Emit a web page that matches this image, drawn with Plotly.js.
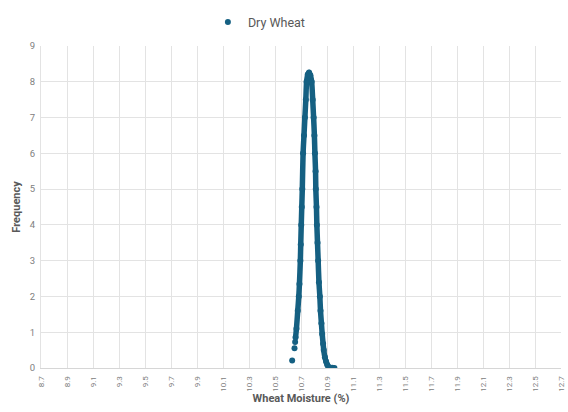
<!DOCTYPE html>
<html>
<head>
<meta charset="utf-8">
<script src="https://cdn.plot.ly/plotly-3.0.1.min.js"></script>
<style>
  html, body { margin: 0; padding: 0; background: #ffffff; }
  #chart { width: 568px; height: 412px; }
</style>
</head>
<body>
<div id="chart"></div>
<script>
// Dry wheat moisture readings (%) and their frequency
var moisture = [
  10.632, 10.650, 10.655, 10.658, 10.665, 10.675, 10.683, 10.688, 10.695, 10.698,
  10.702, 10.706, 10.710, 10.716, 10.723, 10.730, 10.737, 10.743, 10.752, 10.762,
  10.772, 10.782, 10.790, 10.797, 10.803, 10.807, 10.812, 10.814, 10.819, 10.822,
  10.827, 10.832, 10.838, 10.845, 10.850, 10.857, 10.863, 10.870, 10.875, 10.884,
  10.893, 10.902, 10.912, 10.925, 10.940, 10.957
];
var frequency = [
  0.21, 0.55, 0.73, 0.85, 1.10, 1.60, 2.00, 2.35, 3.00, 3.45,
  4.00, 4.50, 5.00, 6.00, 6.50, 7.00, 7.50, 8.00, 8.20, 8.26,
  8.18, 8.00, 7.50, 7.00, 6.50, 6.00, 5.50, 5.00, 4.50, 4.00,
  3.50, 3.00, 2.40, 2.00, 1.60, 1.25, 0.95, 0.68, 0.50, 0.30,
  0.18, 0.09, 0.03, 0.01, 0.005, 0.00
];
var seriesName = 'Dry Wheat';
var xTitle = 'Wheat Moisture (%)';
var yTitle = 'Frequency';

var blue = '#156082';
var grey = '#595959';
var tickGrey = '#808080';
var grid = '#e3e3e3';
var font = 'Roboto, "Liberation Sans", sans-serif';

// the dense run of readings is drawn as a thick line under the dots
var traceRun = {
  x: moisture.slice(3),
  y: frequency.slice(3),
  mode: 'lines',
  type: 'scatter',
  showlegend: false,
  hoverinfo: 'skip',
  line: {color: blue, width: 5.5, shape: 'spline', smoothing: 0.6}
};
var traceDots = {
  x: moisture,
  y: frequency,
  mode: 'markers',
  type: 'scatter',
  name: seriesName,
  marker: {color: blue, size: 6}
};

var layout = {
  width: 568,
  height: 412,
  paper_bgcolor: '#ffffff',
  plot_bgcolor: '#ffffff',
  font: {family: font, color: grey, size: 9},
  margin: {t: 41, r: 7, l: 41, b: 44},
  showlegend: true,
  legend: {
    orientation: 'h', x: 0.42, xanchor: 'center', y: 1.073, yanchor: 'middle',
    font: {family: font, size: 12.5, color: grey},
    itemwidth: 30
  },
  xaxis: {
    range: [8.7, 12.7],
    tick0: 8.7,
    dtick: 0.2,
    tickformat: '.1f',
    tickangle: -90,
    tickfont: {size: 8, color: tickGrey},
    showgrid: true,
    gridcolor: grid,
    zeroline: false,
    showline: true,
    linecolor: '#d6d6d6',
    ticks: 'outside',
    ticklen: 4,
    tickcolor: 'rgba(0,0,0,0)',
    title: {text: xTitle, font: {size: 11, color: grey, weight: 'bold'}, standoff: 0}
  },
  yaxis: {
    range: [0, 9],
    dtick: 1,
    tickfont: {size: 9.5, color: tickGrey},
    showgrid: true,
    gridcolor: grid,
    zeroline: false,
    showline: true,
    linecolor: grid,
    ticks: 'outside',
    ticklen: 3,
    tickcolor: 'rgba(0,0,0,0)',
    title: {text: yTitle, font: {size: 11, color: grey, weight: 'bold'}, standoff: 6}
  }
};

Plotly.newPlot('chart', [traceRun, traceDots], layout, {responsive: false, displayModeBar: false, staticPlot: true});
</script>
</body>
</html>
